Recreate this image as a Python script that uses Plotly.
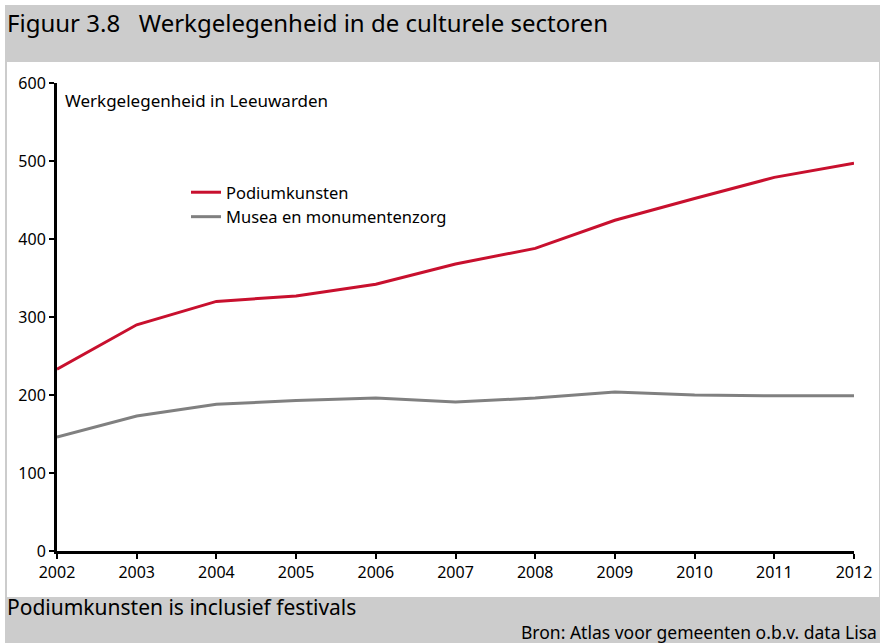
import plotly.graph_objects as go

# data
jaren = [2002, 2003, 2004, 2005, 2006, 2007, 2008, 2009, 2010, 2011, 2012]
podiumkunsten = [233, 290, 320, 327, 342, 368, 388, 424, 452, 479, 497]
musea = [146, 173, 188, 193, 196, 191, 196, 204, 200, 199, 199]

FONT = "Noto Sans"
GRIJS = "#cccccc"

# plot area in pixels: x 57..854, y 83..551
L, R, T, B = 57, 854, 83, 551
W, H = R - L, B - T


def px(x):
    return (x - L) / W


def py(y):
    return (B - y) / H


fig = go.Figure()
fig.add_trace(go.Scatter(x=jaren, y=podiumkunsten, mode="lines", name="Podiumkunsten",
                         line=dict(color="#c8102e", width=3)))
fig.add_trace(go.Scatter(x=jaren, y=musea, mode="lines", name="Musea en monumentenzorg",
                         line=dict(color="#808080", width=3)))

# grijze kader + witte binnenvlak
fig.add_shape(type="rect", xref="paper", yref="paper", layer="below",
              x0=px(5), x1=px(880), y0=py(643), y1=py(5),
              fillcolor=GRIJS, line_width=0)
fig.add_shape(type="rect", xref="paper", yref="paper", layer="below",
              x0=px(7), x1=px(879), y0=py(597), y1=py(62),
              fillcolor="white", line_width=0)

fig.add_annotation(text="Figuur 3.8   Werkgelegenheid in de culturele sectoren",
                   xref="paper", yref="paper", x=px(5), y=py(22),
                   xanchor="left", yanchor="middle", showarrow=False,
                   font=dict(family=FONT, size=24, color="black"))
fig.add_annotation(text="Werkgelegenheid in Leeuwarden",
                   xref="paper", yref="paper", x=px(63), y=py(100),
                   xanchor="left", yanchor="middle", showarrow=False,
                   font=dict(family=FONT, size=17, color="black"))
fig.add_annotation(text="Podiumkunsten is inclusief festivals",
                   xref="paper", yref="paper", x=px(5), y=py(607),
                   xanchor="left", yanchor="middle", showarrow=False,
                   font=dict(family=FONT, size=21, color="black"))
fig.add_annotation(text="Bron: Atlas voor gemeenten o.b.v. data Lisa",
                   xref="paper", yref="paper", x=px(879), y=py(632),
                   xanchor="right", yanchor="middle", showarrow=False,
                   font=dict(family=FONT, size=17.5, color="black"))

fig.update_layout(
    width=880, height=643,
    margin=dict(l=L, r=880 - R, t=T, b=643 - B, autoexpand=False),
    paper_bgcolor="white", plot_bgcolor="rgba(0,0,0,0)",
    font=dict(family=FONT, size=16, color="black"),
    legend=dict(x=px(186), y=py(175), xanchor="left", yanchor="top",
                bgcolor="rgba(0,0,0,0)", font=dict(size=16.5),
                itemwidth=30, tracegroupgap=0),
    showlegend=True,
)
fig.update_xaxes(range=[2002, 2012], tickmode="array", tickvals=jaren,
                 ticks="outside", ticklen=5, tickwidth=2, tickcolor="black",
                 showline=True, linewidth=3, linecolor="black", automargin=False,
                 showgrid=False, zeroline=False, fixedrange=True)
fig.update_yaxes(range=[0, 600], tickvals=[0, 100, 200, 300, 400, 500, 600],
                 ticks="outside", ticklen=5, tickwidth=2, tickcolor="black",
                 showline=True, linewidth=3, linecolor="black", automargin=False,
                 showgrid=False, zeroline=False, fixedrange=True)

# pagina zonder standaard body-marge en zonder schuifbalken
fig.write_html("out.html",
               config={"displayModeBar": False, "responsive": False},
               post_script="document.body.style.margin='0';"
                           "document.body.style.overflow='hidden';")
